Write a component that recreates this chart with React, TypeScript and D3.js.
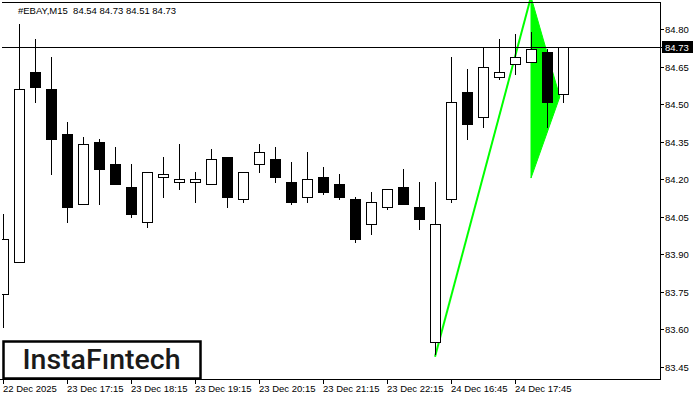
import React from 'react';
import * as d3 from 'd3';

const symbol = '#EBAY,M15';
const headerOHLC = ['84.54', '84.73', '84.51', '84.73'];

const opens = [83.74, 83.87, 84.63, 84.56, 84.38, 84.10, 84.35, 84.26, 84.17, 84.03, 84.21, 84.19, 84.19, 84.18, 84.29, 84.12, 84.26, 84.28, 84.19, 84.13, 84.21, 84.18, 84.12, 84.02, 84.09, 84.17, 84.09, 83.55, 84.12, 84.55, 84.45, 84.61, 84.66, 84.67, 84.71, 84.54];
const highs = [84.06, 84.82, 84.76, 84.69, 84.43, 84.37, 84.36, 84.33, 84.26, 84.23, 84.29, 84.34, 84.23, 84.32, 84.29, 84.23, 84.34, 84.33, 84.27, 84.31, 84.25, 84.22, 84.13, 84.15, 84.16, 84.24, 84.19, 84.19, 84.69, 84.64, 84.73, 84.76, 84.78, 84.79, 84.72, 84.73];
const lows = [83.61, 83.87, 84.51, 84.22, 84.03, 84.10, 84.10, 84.18, 84.05, 84.01, 84.13, 84.16, 84.11, 84.18, 84.09, 84.11, 84.23, 84.19, 84.10, 84.11, 84.14, 84.12, 83.95, 83.98, 84.08, 84.10, 84.00, 83.50, 84.11, 84.36, 84.41, 84.60, 84.62, 84.67, 84.41, 84.51];
const closes = [83.96, 84.56, 84.57, 84.36, 84.09, 84.34, 84.24, 84.18, 84.06, 84.23, 84.22, 84.20, 84.20, 84.28, 84.13, 84.23, 84.31, 84.21, 84.11, 84.20, 84.15, 84.13, 83.96, 84.11, 84.16, 84.10, 84.04, 84.02, 84.51, 84.42, 84.65, 84.63, 84.69, 84.72, 84.51, 84.73];

const priceTicks = [84.80, 84.65, 84.50, 84.35, 84.20, 84.05, 83.90, 83.75, 83.60, 83.45];
const timeLabels = ['22 Dec 2025', '23 Dec 17:15', '23 Dec 18:15', '23 Dec 19:15', '23 Dec 20:15', '23 Dec 21:15', '23 Dec 22:15', '24 Dec 16:45', '24 Dec 17:45'];
const timeLabelIndex = [0, 4, 8, 12, 16, 20, 24, 28, 32];
const lastPrice = 84.73;

const poleIndex = [27, 33];
const polePrice = [83.49, 84.93];
const flagIndex = [33, 34.8, 33];
const flagPrice = [84.93, 84.53, 84.205];

const logoText = 'InstaFıntech';

const PL = 2, PR = 660, PT = 2, PB = 379;
const FONT = '"Liberation Sans", Arial, sans-serif';

export default function App() {
  const x = d3.scaleLinear().domain([0, 35]).range([3, 563]);
  const y = d3.scaleLinear().domain([83.45, 84.80]).range([366.8, 29.3]);

  const poleLine = d3.line<number>()
    .x((_, i) => x(poleIndex[i]))
    .y((p) => y(p));
  const flagPath = d3.line<number>()
    .x((_, i) => x(flagIndex[i]))
    .y((p) => y(p));

  const lastY = Math.round(y(lastPrice)) + 0.5;

  return (
    <svg width={700} height={400} style={{ position: 'fixed', left: 0, top: 0, background: '#fff' }}>
      <defs>
        <clipPath id="plot">
          <rect x={PL} y={0} width={PR - PL} height={PB} />
        </clipPath>
      </defs>
      <rect x={0} y={0} width={700} height={400} fill="#fff" />

      <g clipPath="url(#plot)">
        <path d={(flagPath(flagPrice) || '') + 'Z'} fill="#00ff00" stroke="#00ff00" strokeWidth={1} />
        <path d={poleLine(polePrice) || ''} fill="none" stroke="#00ff00" strokeWidth={2} />
        <line x1={PL} x2={PR} y1={lastY} y2={lastY} stroke="#000" strokeWidth={1} />
        {opens.map((o, i) => {
          const c = closes[i];
          const xc = Math.round(x(i));
          const yO = Math.round(y(o));
          const yC = Math.round(y(c));
          const yH = Math.round(y(highs[i]));
          const yL = Math.round(y(lows[i]));
          const top = Math.min(yO, yC);
          const bot = Math.max(yO, yC);
          const bull = c >= o;
          return (
            <g key={i}>
              <line x1={xc + 0.5} x2={xc + 0.5} y1={yH} y2={yL + 1} stroke="#000" strokeWidth={1} />
              {bull ? (
                <rect x={xc - 4.5} y={top + 0.5} width={10} height={Math.max(bot - top, 1)} fill="#fff" stroke="#000" strokeWidth={1} />
              ) : (
                <rect x={xc - 5} y={top} width={11} height={Math.max(bot - top + 1, 2)} fill="#000" />
              )}
            </g>
          );
        })}
      </g>

      {/* frame */}
      <line x1={PL} x2={PR + 0.5} y1={PT + 0.5} y2={PT + 0.5} stroke="#000" />
      <line x1={PR + 0.5} x2={PR + 0.5} y1={PT} y2={PB + 1} stroke="#000" />
      <line x1={0} x2={PR + 1} y1={PB + 0.5} y2={PB + 0.5} stroke="#000" />

      {/* price axis */}
      {priceTicks.map((p) => {
        const yy = Math.round(y(p)) + 0.5;
        return (
          <g key={p}>
            <line x1={PR} x2={PR + 4} y1={yy} y2={yy} stroke="#000" />
            <text x={665} y={yy} dominantBaseline="central" fontFamily={FONT} fontSize={9.5} fill="#000">
              {p.toFixed(2)}
            </text>
          </g>
        );
      })}
      <line x1={PR} x2={PR + 4} y1={lastY} y2={lastY} stroke="#000" />
      <rect x={662} y={lastY - 6.5} width={31} height={12} fill="#000" />
      <text x={665} y={lastY} dominantBaseline="central" fontFamily={FONT} fontSize={9.5} fill="#fff">
        {lastPrice.toFixed(2)}
      </text>

      {/* time axis */}
      {timeLabels.map((t, k) => {
        const xx = Math.round(x(timeLabelIndex[k])) + 0.5;
        return (
          <g key={t}>
            <line x1={xx} x2={xx} y1={PB} y2={PB + 5} stroke="#000" />
            <text x={xx - 0.5} y={392} fontFamily={FONT} fontSize={9.5} fill="#000">
              {t}
            </text>
          </g>
        );
      })}

      {/* title */}
      <text x={18} y={14} fontFamily={FONT} fontSize={9.5} fill="#000" style={{ whiteSpace: 'pre' }}>
        {symbol + '  ' + headerOHLC.join(' ')}
      </text>

      {/* logo */}
      <rect x={3.5} y={341.5} width={197} height={37} fill="#fff" stroke="#000" strokeWidth={2.5} />
      <text x={22.5} y={369} fontFamily="Roboto, 'Noto Sans', sans-serif" fontWeight={500} fontSize={27} fill="#1a1a1a" textLength={158} lengthAdjust="spacingAndGlyphs">
        {logoText}
      </text>
    </svg>
  );
}
